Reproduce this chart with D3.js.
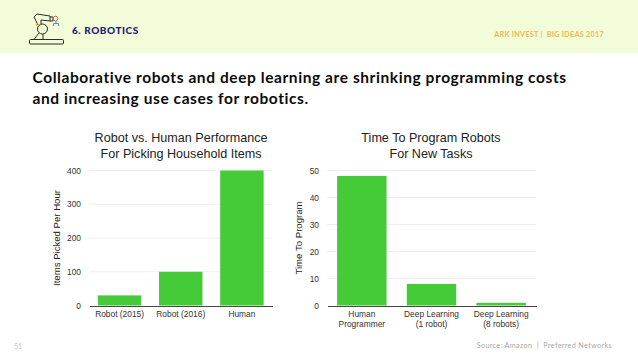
<!DOCTYPE html>
<html>
<head>
<meta charset="utf-8">
<script src="https://cdn.jsdelivr.net/npm/d3@7"></script>
<style>
html, body { margin: 0; padding: 0; background: #fff; }
svg { display: block; }
text { font-family: "Liberation Sans", sans-serif; }
.head { font-family: Lato, sans-serif; }
.axis path, .axis line { shape-rendering: crispEdges; }
</style>
</head>
<body>
<svg id="slide" width="638" height="359"></svg>
<script>
// left chart
var leftTitle = ["Robot vs. Human Performance", "For Picking Household Items"];
var leftCats = ["Robot (2015)", "Robot (2016)", "Human"];
var leftVals = [30, 100, 400];
var leftTicks = [0, 100, 200, 300, 400];
var leftYLabel = "Items Picked Per Hour";

// right chart
var rightTitle = ["Time To Program Robots", "For New Tasks"];
var rightCats = ["Human|Programmer", "Deep Learning|(1 robot)", "Deep Learning|(8 robots)"];
var rightVals = [48, 8, 1];
var rightTicks = [0, 10, 20, 30, 40, 50];
var rightYLabel = "Time To Program";

var headline = ["Collaborative robots and deep learning are shrinking programming costs",
                "and increasing use cases for robotics."];

var svg = d3.select("#slide");

// top band
svg.append("rect").attr("width", 638).attr("height", 53).attr("fill", "#f2fcd9");
svg.append("text").attr("class", "head").attr("x", 72).attr("y", 34)
  .attr("font-size", 10).attr("font-weight", 900).attr("letter-spacing", 0.55)
  .attr("fill", "#1a2070").text("6. ROBOTICS");
svg.append("text").attr("class", "head").attr("x", 604).attr("y", 36.5)
  .attr("text-anchor", "end").attr("font-size", 7.2).attr("font-weight", 900)
  .attr("letter-spacing", 0.3).attr("fill", "#eebc5e").text("ARK INVEST |\u00a0\u00a0BIG IDEAS 2017");

// robot icon
var icon = svg.append("g").attr("fill", "none").attr("stroke", "#2b2b22").attr("stroke-width", 1);
icon.append("rect").attr("x", 29.5).attr("y", 39.5).attr("width", 34).attr("height", 4.5).attr("rx", 1);
icon.append("circle").attr("cx", 42.5).attr("cy", 29).attr("r", 5);
icon.append("path").attr("d", "M39 33L34 39.5M43 34V39.5M38 25L34 17L37 14L50 16V21L41 20L41 24");
icon.append("path").attr("d", "M50 17H53V21H50");
icon.append("circle").attr("cx", 55.5).attr("cy", 18.5).attr("r", 2.3).attr("stroke", "#d9606a");
icon.append("path").attr("d", "M53.5 26V23.5H58.5V26M56 21V23.5").attr("stroke", "#4f93b5");
icon.append("circle").attr("cx", 37.5).attr("cy", 25).attr("r", 1.2).attr("stroke", "#e6b450");

// headline
svg.selectAll("text.headline").data(headline).enter().append("text")
  .attr("class", "head headline")
  .attr("x", 32.5).attr("y", function(d, i) { return 83 + i * 21; })
  .attr("font-size", 15.5).attr("font-weight", 700).attr("letter-spacing", 0.58)
  .attr("fill", "#0b0b0b").text(function(d) { return d; });

// footer
svg.append("text").attr("class", "head").attr("x", 14).attr("y", 349)
  .attr("font-size", 7).attr("fill", "#c4c4c4").text("51");
svg.append("text").attr("class", "head").attr("x", 612).attr("y", 348)
  .attr("text-anchor", "end").attr("font-size", 7.2).attr("letter-spacing", 0.36)
  .attr("fill", "#a8a8a8").text("Source: Amazon\u00a0\u00a0|\u00a0\u00a0Preferred Networks");

function drawChart(o) {
  var y = d3.scaleLinear().domain([0, o.ticks[o.ticks.length - 1]]).range([305.5, 170.5]);
  var x = d3.scaleBand().domain(o.cats).range(o.xr).paddingInner(o.pad).paddingOuter(o.pad / 2);
  var g = svg.append("g");

  // titles
  g.selectAll("text.title").data(o.title).enter().append("text")
    .attr("class", "title")
    .attr("x", o.cx).attr("y", function(d, i) { return 142 + i * 15.5; })
    .attr("text-anchor", "middle").attr("font-size", 12.6).attr("fill", "#222")
    .text(function(d) { return d; });

  // grid
  g.selectAll("line.grid").data(o.ticks.slice(1)).enter().append("line")
    .attr("class", "grid")
    .attr("x1", o.xr[0]).attr("x2", o.xr[1])
    .attr("y1", function(d) { return y(d); }).attr("y2", function(d) { return y(d); })
    .attr("stroke", "#efefef").attr("stroke-width", 1);

  // bars
  g.selectAll("rect.bar").data(o.vals).enter().append("rect")
    .attr("class", "bar")
    .attr("x", function(d, i) { return x(o.cats[i]); })
    .attr("width", x.bandwidth())
    .attr("y", function(d) { return y(d); })
    .attr("height", function(d) { return y(0) - y(d); })
    .attr("fill", "#46cb38");

  // y axis
  var yAxis = g.append("g").attr("class", "axis").attr("transform", "translate(" + o.xr[0] + ",0)")
    .call(d3.axisLeft(y).tickValues(o.ticks).tickSize(0).tickPadding(o.tickPad));
  yAxis.select(".domain").remove();
  yAxis.selectAll("text").attr("font-size", 8.4).attr("fill", "#333")
    .style("font-family", '"Liberation Sans", sans-serif');

  // x axis, labels may have two lines split by |
  var xAxis = g.append("g").attr("class", "axis").attr("transform", "translate(0,305.5)")
    .call(d3.axisBottom(x).tickSize(0).tickPadding(0).tickFormat(""));
  xAxis.select(".domain").attr("stroke", "#444").attr("stroke-width", 1);
  xAxis.selectAll(".tick").each(function(d) {
    var t = d3.select(this).select("text").text(null)
      .attr("y", 0).attr("dy", null).attr("font-size", 8.4).attr("fill", "#333")
      .style("font-family", '"Liberation Sans", sans-serif');
    d.split("|").forEach(function(line, i) {
      t.append("tspan").attr("x", 0).attr("y", 11.5 + i * 10).text(line);
    });
  });

  // y axis title
  g.append("text")
    .attr("transform", "translate(" + o.yl + ",238) rotate(-90)")
    .attr("text-anchor", "middle").attr("font-size", 9.6).attr("fill", "#222")
    .text(o.yLabel);
}

drawChart({ title: leftTitle, cats: leftCats, vals: leftVals, ticks: leftTicks, yLabel: leftYLabel,
  xr: [89, 272.5], pad: 0.29, cx: 181, yl: 59.5, tickPad: 8 });
drawChart({ title: rightTitle, cats: rightCats, vals: rightVals, ticks: rightTicks, yLabel: rightYLabel,
  xr: [327, 536], pad: 0.29, cx: 431, yl: 301.5, tickPad: 8 });
</script>
</body>
</html>
